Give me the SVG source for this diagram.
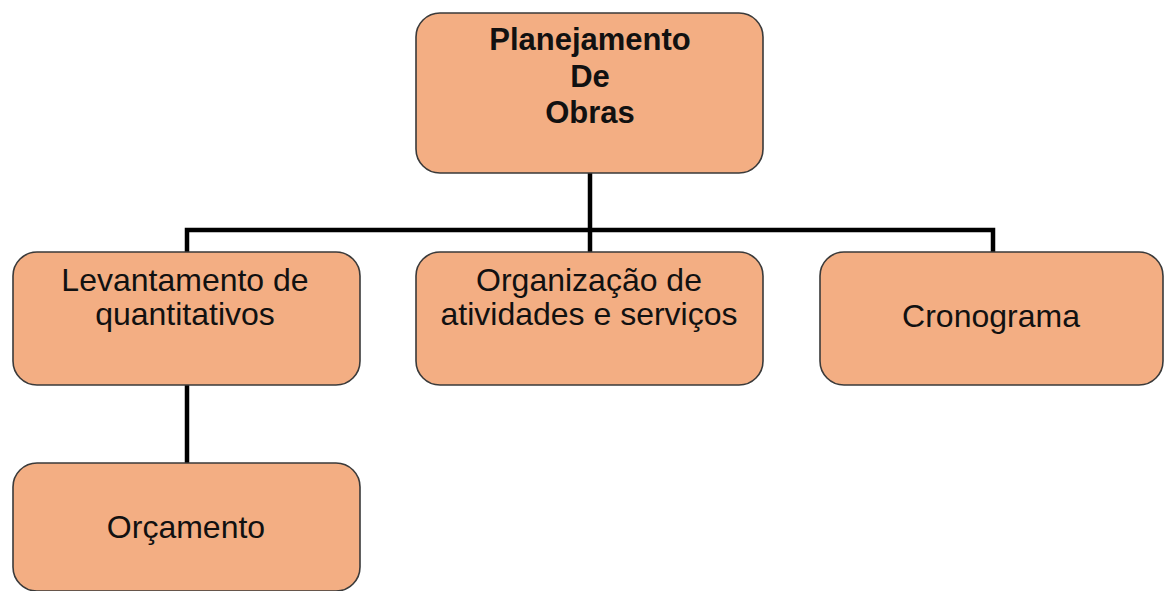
<svg xmlns="http://www.w3.org/2000/svg" width="1164" height="591" viewBox="0 0 1164 591">
<style>
.box{fill:#F3AE83;stroke:#3a3a3a;stroke-width:1.6}
.t{font-family:"Liberation Sans",Arial,sans-serif;font-size:32px;fill:#111;text-anchor:middle}
.b{font-weight:bold;font-size:31px}
.c{stroke:#000;stroke-width:4.5;fill:none}
</style>
<rect width="1164" height="591" fill="#fff"/>
<g id="connectors">
<path class="c" d="M590 173 V252"/>
<path class="c" d="M187 252 V230 H993 V252"/>
<path class="c" d="M187 385 V463"/>
</g>
<g id="n-planejamento">
<rect class="box" x="416" y="13" width="347" height="160" rx="24"/>
<text class="t b" x="590" y="50">Planejamento</text>
<text class="t b" x="590" y="87">De</text>
<text class="t b" x="590" y="123">Obras</text>
</g>
<g id="n-levantamento">
<rect class="box" x="13" y="252" width="347" height="133" rx="24"/>
<text class="t" x="185" y="291">Levantamento de</text>
<text class="t" x="185" y="325">quantitativos</text>
</g>
<g id="n-organizacao">
<rect class="box" x="416" y="252" width="347" height="133" rx="24"/>
<text class="t" x="589" y="291">Organização de</text>
<text class="t" x="589" y="325">atividades e serviços</text>
</g>
<g id="n-cronograma">
<rect class="box" x="820" y="252" width="343" height="133" rx="24"/>
<text class="t" x="991" y="327">Cronograma</text>
</g>
<g id="n-orcamento">
<rect class="box" x="13" y="463" width="347" height="128" rx="24"/>
<text class="t" x="186" y="538">Orçamento</text>
</g>
</svg>
